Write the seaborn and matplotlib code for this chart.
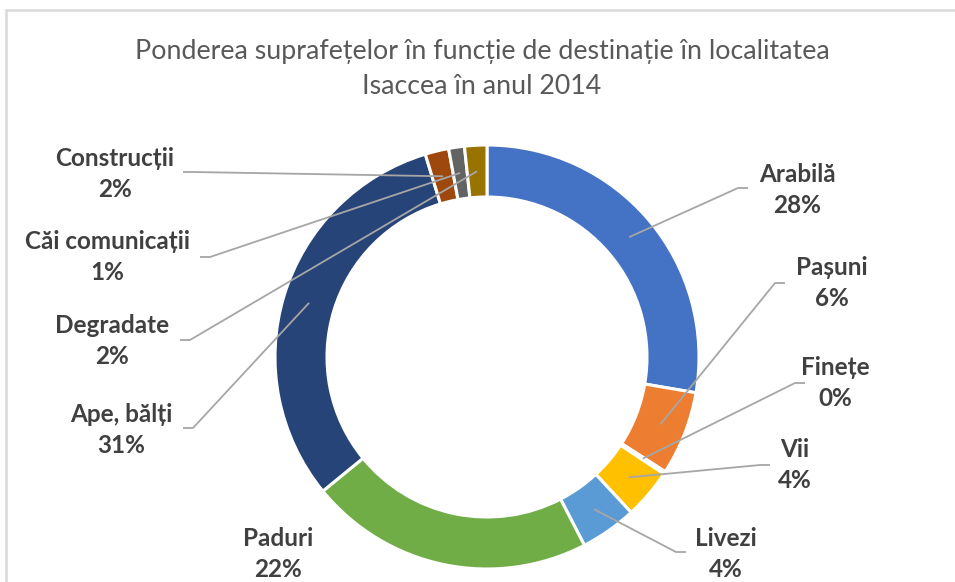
import matplotlib

matplotlib.use("Agg")
import matplotlib.pyplot as plt
import numpy as np
import seaborn as sns

# data: share of land by destination (%), slice order clockwise from 12 o'clock
categories = [
    "Arabilă", "Pașuni", "Finețe", "Vii", "Livezi", "Paduri",
    "Ape, bălți", "Construcții", "Căi comunicații", "Degradate",
]
shares = [27.7, 6.4, 0.2, 3.8, 4.3, 21.7, 31.2, 1.8, 1.2, 1.7]
colors = [
    "#4472C4", "#ED7D31", "#A5A5A5", "#FFC000", "#5B9BD5", "#70AD47",
    "#264478", "#9E480E", "#636363", "#997300",
]
title = "Ponderea suprafețelor în funcție de destinație în localitatea\nIsaccea în anul 2014"

# layout, in pixels from the top-left corner of the 955x582 canvas
W, H = 955, 582
CENTER = (487, 357)
R_OUT, RING = 212, 52
# label block centre and where the leader line meets the label (None = no line)
label_xy = [(797, 190), (832, 283), (835, 383), (795, 465), (726, 554),
            (278, 554), (121, 430), (115, 174), (107, 257), (112, 341)]
stub_xy = [(748, 188), (785, 283), (805, 383), (770, 465), (686, 552),
           None, (183, 428), (183, 172), (200, 257), (180, 340)]

sns.set_theme(style="white")
plt.rcParams["font.family"] = ["Lato", "DejaVu Sans"]

fig = plt.figure(figsize=(W / 100, H / 100), dpi=100)
ax = fig.add_axes([0, 0, 1, 1])

cx, cy = CENTER[0], H - CENTER[1]
wedges, _ = ax.pie(
    shares,
    colors=colors,
    startangle=90,
    counterclock=False,
    radius=R_OUT,
    center=(cx, cy),
    wedgeprops=dict(width=RING, edgecolor="white", linewidth=2.2),
)

ax.set_xlim(0, W)
ax.set_ylim(0, H)
ax.set_aspect("equal")
ax.axis("off")

# leader lines + labels
r_mid = R_OUT - RING / 2
cum = np.cumsum([0] + shares[:-1])
total = sum(shares)
for i, (name, val) in enumerate(zip(categories, shares)):
    ang = np.deg2rad((cum[i] + val / 2) / total * 360)
    px, py = cx + r_mid * np.sin(ang), cy + r_mid * np.cos(ang)
    if stub_xy[i] is not None:
        sx, sy = stub_xy[i][0], H - stub_xy[i][1]
        ex = sx - 10 if sx > cx else sx + 10
        ax.plot([px, ex, sx], [py, sy, sy], color="#A6A6A6", lw=1.3,
                solid_capstyle="butt", zorder=3)
    lx, ly = label_xy[i][0], H - label_xy[i][1]
    ax.text(lx, ly, f"{name}\n{round(val):.0f}%", ha="center", va="center",
            fontsize=17.5, fontweight="bold", color="#404040", linespacing=1.45)

fig.text(482 / W, 1 - 69 / H, title, ha="center", va="center", fontsize=19.3,
         color="#595959", linespacing=1.55)

# chart frame (top and left edges visible in the crop)
ax.plot([6, W, W], [H - 10, H - 10, H - 10], color="#D9D9D9", lw=1.8, clip_on=False)
ax.plot([6, 6], [H - 10, 0], color="#D9D9D9", lw=1.8, clip_on=False)

fig.savefig("out.png", dpi=100, facecolor="white")
